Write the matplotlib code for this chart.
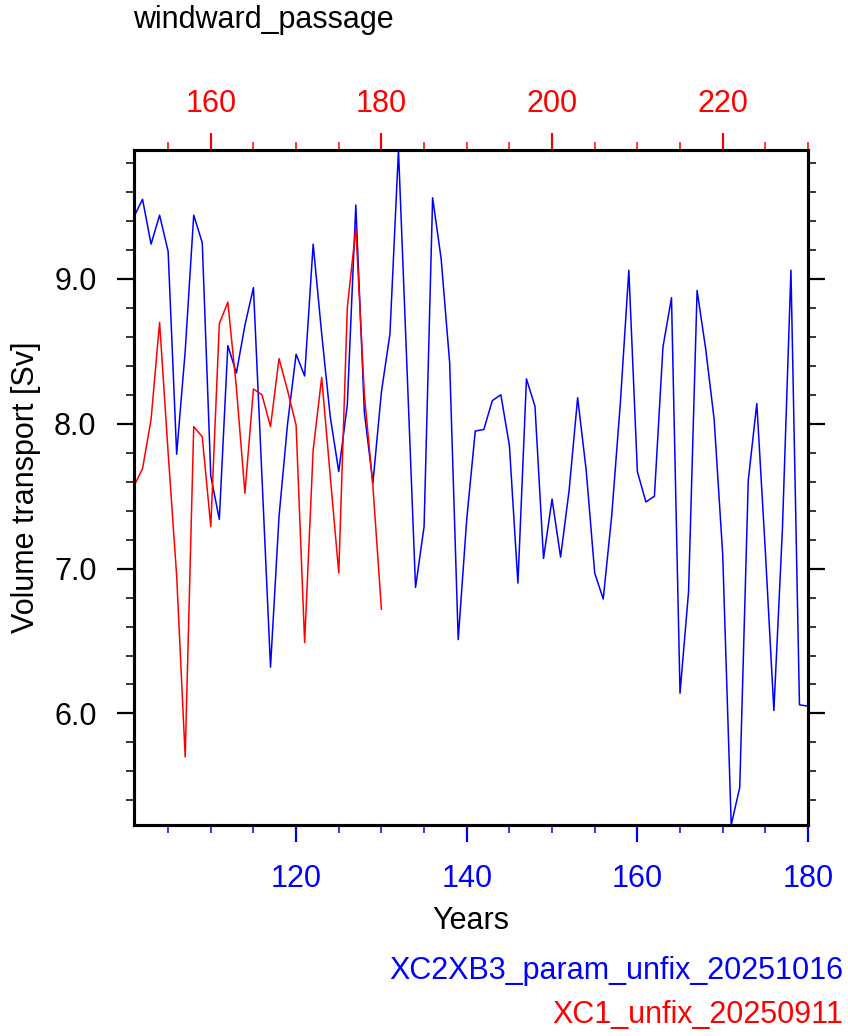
import numpy as np
import matplotlib
matplotlib.use('Agg')
import matplotlib.pyplot as plt
from matplotlib.ticker import MultipleLocator, FormatStrFormatter

plt.rcParams['font.family'] = ['Liberation Sans', 'DejaVu Sans']

# blue run: model years 101-180 (bottom axis)
years_blue = np.arange(101, 181)
transport_blue = [
    9.43, 9.55, 9.24, 9.44, 9.19, 7.79, 8.50, 9.44, 9.25, 7.64,
    7.34, 8.54, 8.35, 8.68, 8.94, 7.63, 6.32, 7.36, 8.00, 8.48,
    8.33, 9.24, 8.62, 8.05, 7.67, 8.13, 9.51, 8.08, 7.59, 8.22,
    8.62, 9.89, 8.38, 6.87, 7.29, 9.56, 9.14, 8.42, 6.51, 7.34,
    7.95, 7.96, 8.16, 8.20, 7.85, 6.90, 8.31, 8.12, 7.07, 7.48,
    7.08, 7.54, 8.18, 7.68, 6.97, 6.79, 7.37, 8.14, 9.06, 7.67,
    7.46, 7.50, 8.53, 8.87, 6.14, 6.84, 8.92, 8.52, 8.03, 7.10,
    5.23, 5.49, 7.61, 8.14, 7.12, 6.02, 7.27, 9.06, 6.06, 6.05,
]

# red run: model years 151-180 (top axis)
years_red = np.arange(151, 181)
transport_red = [
    7.57, 7.69, 8.03, 8.70, 7.80, 6.95, 5.70, 7.98, 7.91, 7.29,
    8.69, 8.84, 8.25, 7.52, 8.24, 8.20, 7.98, 8.45, 8.23, 7.99,
    6.49, 7.82, 8.32, 7.64, 6.97, 8.80, 9.35, 8.20, 7.57, 6.72,
]

title = 'windward_passage'
name_blue = 'XC2XB3_param_unfix_20251016'
name_red = 'XC1_unfix_20250911'

fs = 22
fig = plt.figure(figsize=(8.48, 10.36), dpi=100)
ax = fig.add_axes([134 / 848, 1 - 825 / 1036, 674 / 848, 675 / 1036])
ax2 = ax.twiny()

ax.plot(years_blue, transport_blue, color='blue', lw=1.1)
ax2.plot(years_red, transport_red, color='red', lw=1.1)

allv = transport_blue + transport_red
ax.set_ylim(min(allv), max(allv))
ax.set_xlim(years_blue[0], years_blue[-1])
ax2.set_xlim(years_red[0], years_red[0] + (years_blue[-1] - years_blue[0]))

# bottom axis (blue)
ax.xaxis.set_major_locator(MultipleLocator(20))
ax.xaxis.set_minor_locator(MultipleLocator(5))
ax.tick_params(axis='x', which='major', direction='out', length=12, width=1.6,
               colors='blue', labelsize=fs, pad=16)
ax.tick_params(axis='x', which='minor', direction='out', length=6, width=1.1,
               color='blue')

# top axis (red)
ax2.xaxis.set_major_locator(MultipleLocator(20))
ax2.xaxis.set_minor_locator(MultipleLocator(5))
ax2.tick_params(axis='x', which='major', direction='out', length=12, width=1.6,
                colors='red', labelsize=fs, pad=10)
ax2.tick_params(axis='x', which='minor', direction='out', length=6, width=1.1,
                color='red')

# y axis
ax.yaxis.set_major_locator(MultipleLocator(1.0))
ax.yaxis.set_minor_locator(MultipleLocator(0.2))
ax.yaxis.set_major_formatter(FormatStrFormatter('%.1f'))
ax.tick_params(axis='y', which='major', direction='out', length=12, width=1.6,
               labelsize=fs, pad=15, right=True)
ax.tick_params(axis='y', which='minor', direction='out', length=6, width=1.1,
               right=True)

for a in (ax, ax2):
    for s in a.spines.values():
        s.set_linewidth(2.2)

ax.set_xlabel('Years', fontsize=fs, labelpad=9)
ax.set_ylabel('Volume transport [Sv]', fontsize=fs, labelpad=9)

fig.text(133 / 848, 1 - 28 / 1036, title, fontsize=fs, va='baseline', ha='left')
fig.text(843 / 848, 1 - 979 / 1036, name_blue, fontsize=fs, color='blue',
         va='baseline', ha='right')
fig.text(843 / 848, 1 - 1023 / 1036, name_red, fontsize=fs, color='red',
         va='baseline', ha='right')

fig.savefig('out.png', dpi=100)
